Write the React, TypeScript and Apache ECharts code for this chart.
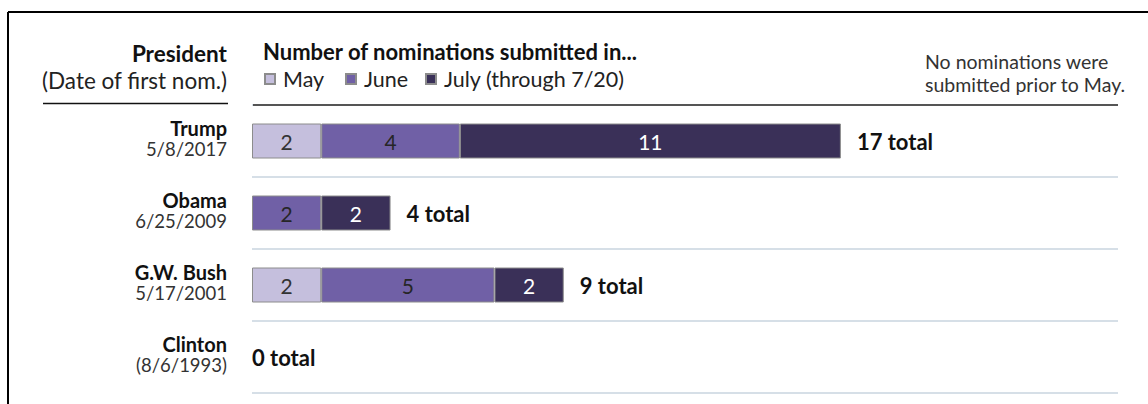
import React, { useEffect, useRef } from "react";
import * as echarts from "echarts";

const presidents = ["Trump", "Obama", "G.W. Bush", "Clinton"];
const firstNomDates = ["5/8/2017", "6/25/2009", "5/17/2001", "(8/6/1993)"];
const monthNames = ["May", "June", "July (through 7/20)"];
const mayCounts = [2, 0, 2, 0];
const juneCounts = [4, 2, 5, 0];
const julyCounts = [11, 2, 2, 0];
const axisMax = 25;

const FONT = "Lato";
const monthColors = ["#c5bfdd", "#7060a6", "#3a3058"];
const labelColors = ["#333333", "#262626", "#ffffff"];

export default function App() {
  const ref = useRef<HTMLDivElement>(null);

  useEffect(() => {
    if (!ref.current) return;
    const chart = echarts.init(ref.current, undefined, { renderer: "svg" });
    const monthly = [mayCounts, juneCounts, julyCounts];
    const totals = presidents.map((_, i) => monthly.reduce((s, arr) => s + arr[i], 0));

    const barSeries = monthly.map((arr, k) => ({
      type: "bar",
      name: monthNames[k],
      stack: "noms",
      barWidth: 35,
      data: arr.map((v) => (v === 0 ? "-" : v)),
      itemStyle: { color: monthColors[k], borderColor: "#8c8c8c", borderWidth: 1 },
      label: {
        show: true,
        position: "inside",
        color: labelColors[k],
        fontFamily: FONT,
        fontSize: 21,
        formatter: (p: any) => String(p.value),
      },
    }));

    const totalSeries = {
      type: "bar",
      name: "total",
      stack: "noms",
      barWidth: 35,
      data: totals.map((t) => ({
        value: 0,
        label: { distance: t === 0 ? 0 : 16 },
      })),
      itemStyle: { color: "rgba(0,0,0,0)" },
      label: {
        show: true,
        position: "right",
        color: "#111",
        fontFamily: FONT,
        fontWeight: "bold",
        fontSize: 22,
        formatter: (p: any) => `${totals[p.dataIndex]} total`,
      },
    };

    const legendLefts = [264, 345, 425];

    chart.setOption({
      animation: false,
      textStyle: { fontFamily: FONT },
      grid: { left: 252, right: 30, top: 105, bottom: 11 },
      xAxis: { type: "value", min: 0, max: axisMax, show: false, splitLine: { show: false } },
      yAxis: {
        type: "category",
        data: presidents,
        inverse: true,
        axisLine: { show: false },
        axisTick: { show: false },
        splitLine: { show: true, lineStyle: { color: "#d6dfe7", width: 2 } },
        axisLabel: {
          margin: 25,
          align: "right",
          padding: [0, 0, 6, 0],
          formatter: (value: string, idx: number) => `{n|${value}}\n{d|${firstNomDates[idx]}}`,
          rich: {
            n: { fontFamily: FONT, fontWeight: "bold", fontSize: 20, color: "#111", lineHeight: 21, align: "right" },
            d: { fontFamily: FONT, fontSize: 18.5, color: "#333", lineHeight: 21, align: "right" },
          },
        },
      },
      legend: monthNames.map((m, k) => ({
        data: [m],
        left: legendLefts[k],
        top: 68,
        padding: 0,
        itemWidth: 10,
        itemHeight: 10,
        icon: "rect",
        selectedMode: false,
        textStyle: { fontFamily: FONT, fontSize: 21.5, color: "#222", padding: [0, 0, 0, 3] },
      })),
      graphic: [
        { type: "line", z: 100, shape: { x1: 8, y1: 12, x2: 1148, y2: 12 }, style: { stroke: "#000", lineWidth: 2 } },
        { type: "line", z: 100, shape: { x1: 8, y1: 12, x2: 8, y2: 404 }, style: { stroke: "#000", lineWidth: 2 } },
        { type: "line", z: 100, shape: { x1: 43, y1: 103.5, x2: 228, y2: 103.5 }, style: { stroke: "#111", lineWidth: 1.5 } },
        { type: "line", z: 100, shape: { x1: 253, y1: 105, x2: 1118, y2: 105 }, style: { stroke: "#555", lineWidth: 2 } },
        {
          type: "text", z: 100, x: 227, y: 53,
          style: { text: "President", fontFamily: FONT, fontWeight: "bold", fontSize: 22.5, fill: "#111", align: "right", verticalAlign: "middle" },
        },
        {
          type: "text", z: 100, x: 227, y: 80,
          style: { text: "(Date of first nom.)", fontFamily: FONT, fontSize: 22.5, fill: "#222", align: "right", verticalAlign: "middle" },
        },
        {
          type: "text", z: 100, x: 263, y: 51,
          style: { text: "Number of nominations submitted in...", fontFamily: FONT, fontWeight: "bold", fontSize: 22, fill: "#111", align: "left", verticalAlign: "middle" },
        },
        {
          type: "text", z: 100, x: 925, y: 61,
          style: { text: "No nominations were", fontFamily: FONT, fontSize: 19.5, fill: "#333", align: "left", verticalAlign: "middle" },
        },
        {
          type: "text", z: 100, x: 925, y: 84,
          style: { text: "submitted prior to May.", fontFamily: FONT, fontSize: 19.5, fill: "#333", align: "left", verticalAlign: "middle" },
        },
      ],
      series: [...barSeries, totalSeries],
    });
    return () => chart.dispose();
  }, []);

  return (
    <div
      ref={ref}
      style={{ position: "fixed", left: 0, top: 0, width: 1148, height: 404, background: "#fff" }}
    />
  );
}
